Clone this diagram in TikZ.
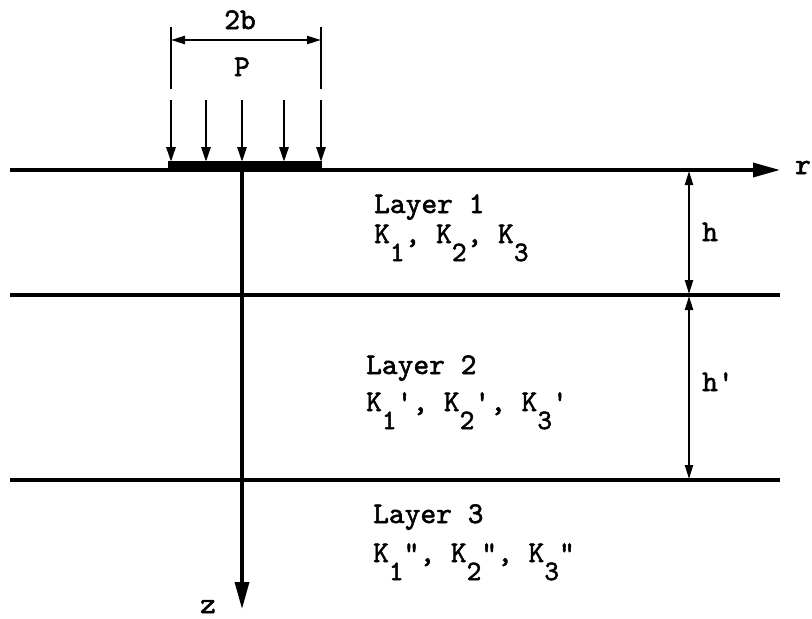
\documentclass[tikz,border=0pt]{standalone}
\usepackage{fontspec}
\setmonofont{lmmono10-regular.otf}[FakeBold=1.8]
\usetikzlibrary{arrows.meta}
\newcommand{\sbs}[1]{\raisebox{-0.6em}{\fontsize{28}{30}\selectfont #1}}
\begin{document}
\begin{tikzpicture}[x=1pt,y=-1pt,
  every node/.style={font=\ttfamily\fontsize{30}{33}\selectfont, inner sep=0pt},
  axis/.style={line width=3.4pt,-{Triangle[length=27pt,width=14pt]}},
  layer/.style={line width=3.4pt},
  load/.style={line width=2.8pt,-{Triangle[length=15pt,width=9pt]}},
  dim/.style={line width=2.2pt,{Triangle[length=14pt,width=8pt]}-{Triangle[length=14pt,width=8pt]}},
  ext/.style={line width=2.2pt},
  txt/.style={anchor=base west},
  lbl/.style={anchor=base}]
\useasboundingbox (0,0) rectangle (812,619);
% layers
\coordinate (s0) at (10,170); \coordinate (s1) at (780,170);
\coordinate (a0) at (10,295); \coordinate (a1) at (780,295);
\coordinate (b0) at (10,480); \coordinate (b1) at (780,480);
\draw[axis] (s0) -- (s1);
\draw[layer] (a0) -- (a1);
\draw[layer] (b0) -- (b1);
\node[lbl] (r) at (803,174) {r};
% z axis
\coordinate (o) at (242,170); \coordinate (zt) at (242,609);
\draw[axis] (o) -- (zt);
\node[lbl] (z) at (208,613) {z};
% load bar
\coordinate (p0) at (168,165); \coordinate (p1) at (322,165);
\draw[line width=8pt] (p0) -- (p1);
\foreach \x [count=\i] in {171,206,242,284,321}{
  \coordinate (la\i) at (\x,100); \coordinate (lb\i) at (\x,162);
  \draw[load] (la\i) -- (lb\i);
}
% dimension 2b
\coordinate (e0a) at (171,27); \coordinate (e0b) at (171,89);
\coordinate (e1a) at (321,27); \coordinate (e1b) at (321,89);
\draw[ext] (e0a) -- (e0b);
\draw[ext] (e1a) -- (e1b);
\coordinate (d0) at (171,40); \coordinate (d1) at (321,40);
\draw[dim] (d0) -- (d1);
\node[lbl] (tb) at (240,29) {2b};
\node[lbl] (tP) at (242,76) {P};
% h, h'
\coordinate (h0) at (689,171); \coordinate (h1) at (689,294);
\coordinate (h2) at (689,296); \coordinate (h3) at (689,479);
\draw[dim] (h0) -- (h1);
\draw[dim] (h2) -- (h3);
\node[txt] (th) at (702,241) {h};
\node[txt] (thp) at (702,391) {h'};
% layer labels
\node[txt] (L1) at (374,213) {Layer 1};
\node[txt] (K1) at (374,243) {K\sbs{1}, K\sbs{2}, K\sbs{3}};
\node[txt] (L2) at (366,374) {Layer 2};
\node[txt] (K2) at (366,411) {K\sbs{1}', K\sbs{2}', K\sbs{3}'};
\node[txt] (L3) at (373,523) {Layer 3};
\node[txt] (K3) at (373,562) {K\sbs{1}", K\sbs{2}", K\sbs{3}"};
\end{tikzpicture}
\end{document}
